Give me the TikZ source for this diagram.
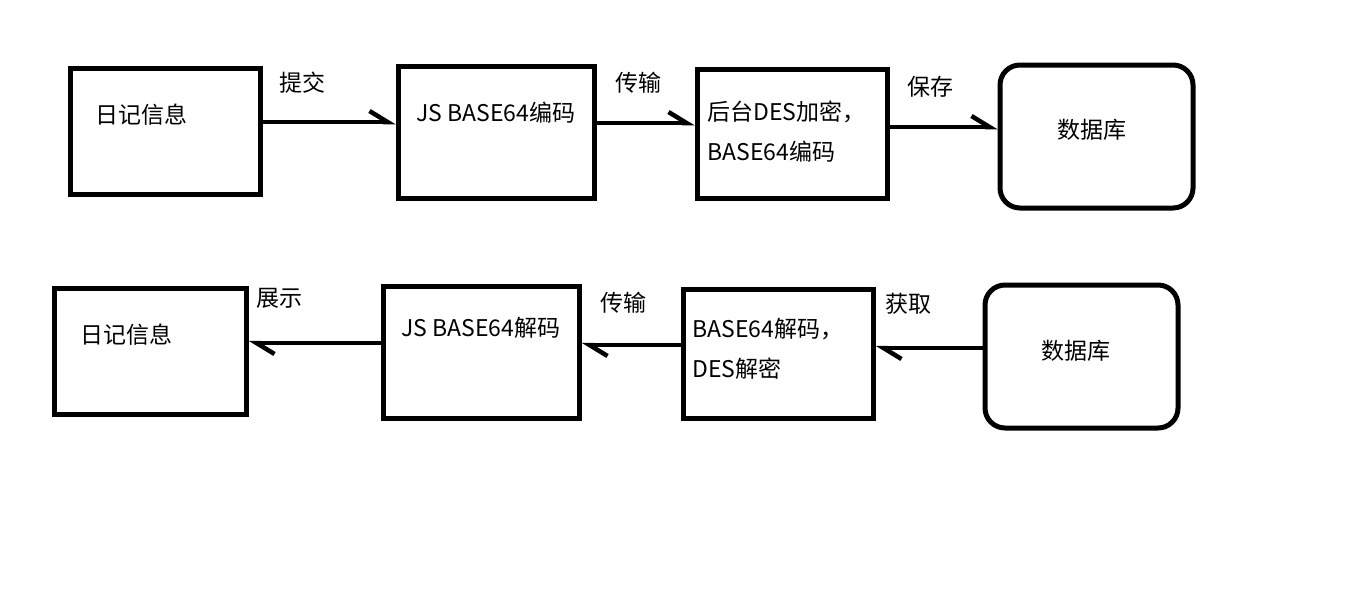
\documentclass[tikz,border=0pt]{standalone}
\usepackage{fontspec}
\setmainfont{Noto Sans CJK SC}
\usetikzlibrary{arrows.meta}
\begin{document}
\begin{tikzpicture}[x=1pt,y=-1pt,
  box/.style={draw,line width=5pt,minimum width=#1,inner sep=0pt},
  rbox/.style={draw,line width=5pt,rounded corners=20pt,inner sep=0pt},
  txt/.style={font=\fontsize{23}{28}\selectfont,inner sep=0pt},
  arr/.style={line width=4.5pt,-{Straight Barb[harpoon,length=18pt,width=22pt]}}]
\useasboundingbox (0,0) rectangle (1360,597);
% top row
\node[box=190pt,minimum height=126pt] (a1) at (165,131) {};
\node[box=196pt,minimum height=132pt] (a2) at (496,132) {};
\node[box=190pt,minimum height=129pt] (a3) at (792,133.5) {};
\node[rbox,minimum width=193pt,minimum height=143pt] (a4) at (1096.5,136.5) {};
\node[txt] (ta1) at (141,115) {日记信息};
\node[txt] (ta2) at (496,113) {JS BASE64编码};
\node[txt,anchor=west] (ta3) at (707,112) {后台DES加密，};
\node[txt,anchor=west] (ta3b) at (707,152) {BASE64编码};
\node[txt] (ta4) at (1092,130) {数据库};
\draw[arr] ([yshift=9pt]a1.east) -- ([yshift=9pt]a1.east -| a2.west);
\draw[arr] ([yshift=9pt]a2.east) -- ([yshift=9pt]a2.east -| a3.west);
\draw[arr] ([yshift=6.5pt]a3.east) -- ([yshift=6.5pt]a3.east -| a4.west);
\node[txt] (la1) at (302,83) {提交};
\node[txt] (la2) at (638,83) {传输};
\node[txt] (la3) at (930,87) {保存};
% bottom row
\node[box=192pt,minimum height=126pt] (b1) at (150,351) {};
\node[box=196pt,minimum height=132pt] (b2) at (481,352) {};
\node[box=190pt,minimum height=129pt] (b3) at (778,353.5) {};
\node[rbox,minimum width=193pt,minimum height=143pt] (b4) at (1081.5,356.5) {};
\node[txt] (tb1) at (126,335) {日记信息};
\node[txt] (tb2) at (481,328) {JS BASE64解码};
\node[txt,anchor=west] (tb3) at (692,329) {BASE64解码，};
\node[txt,anchor=west] (tb3b) at (692,369) {DES解密};
\node[txt] (tb4) at (1076,351) {数据库};
\draw[arr] ([yshift=9pt]b2.west) -- ([yshift=9pt]b2.west -| b1.east);
\draw[arr] ([yshift=8.5pt]b3.west) -- ([yshift=8.5pt]b3.west -| b2.east);
\draw[arr] ([yshift=8.5pt]b4.west) -- ([yshift=8.5pt]b4.west -| b3.east);
\node[txt] (lb1) at (279,298) {展示};
\node[txt] (lb2) at (623,303) {传输};
\node[txt] (lb3) at (908,304) {获取};
\end{tikzpicture}
\end{document}
